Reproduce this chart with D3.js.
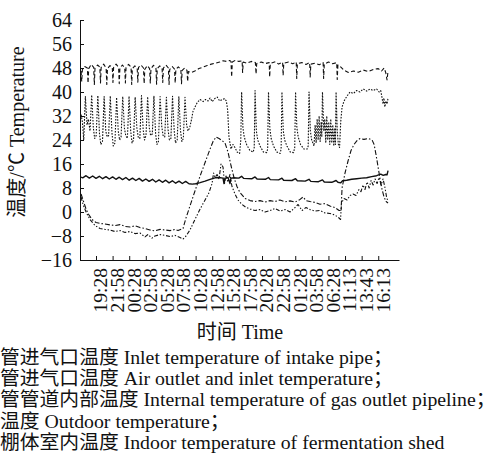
<!DOCTYPE html>
<html><head><meta charset="utf-8">
<script src="https://cdn.jsdelivr.net/npm/d3@7"></script>
<style>body{margin:0;background:#fff} svg{display:block}</style>
</head><body>
<svg id="c" width="495" height="462"></svg>
<script>
// ---- data (x = sample index, 10 samples per tick; y = temperature °C) ----
const xLabels = ["19:28","21:58","00:28","02:58","05:28","07:58","10:28","12:58","15:28","17:58","20:28","22:58","01:28","03:58","06:28","11:13","13:43","16:13"];
const xTickIdx = [0,10,20,30,40,50,60,70,80,90,100,110,120,130,140,150,160,170];
const yTicks = [-16,-8,0,8,16,24,32,40,48,56,64];
const yTitle = "温度/℃ Temperature";
const xTitle = "时间 Time";
const legendLines = [
  "管进气口温度 Inlet temperature of intake pipe；",
  "管进气口温度 Air outlet and inlet temperature；",
  "管管道内部温度 Internal temperature of gas outlet pipeline；",
  "温度 Outdoor temperature；",
  "棚体室内温度 Indoor temperature of fermentation shed"
];

// dashed, top
const seriesTop = [[-9.0,47],[-8.6,43.5],[-8.2,47.5],[-6.8,48.5],[-5.2,48],[-4.8,43],[-4.4,47.8],[-2.9,49.2],[-1.4,48.2],[-1.0,42.5],[-0.6,48],[0.9,49],[2.3,48.3],[2.7,43],[3.1,48.2],[4.6,49.3],[6.1,48],[6.5,42.5],[6.9,47.8],[8.4,48.8],[9.8,48.3],[10.2,43.2],[10.6,48.2],[12.1,49.3],[13.6,48.2],[14.0,42.8],[14.4,48],[15.9,49],[17.3,48],[17.7,43],[18.1,48.2],[19.6,49.2],[21.1,48.3],[21.5,42.5],[21.9,47.8],[23.4,48.7],[24.8,48],[25.2,43.3],[25.6,48.2],[27.1,49],[28.6,48],[29.0,42.8],[29.4,47.6],[30.9,48.8],[32.3,47.8],[32.7,43],[33.1,47.7],[34.6,48.9],[36.1,48],[36.5,42.6],[36.9,47.8],[38.4,48.7],[39.8,47.9],[40.2,43.2],[40.6,48],[42.1,49],[43.6,48],[44.0,42.5],[44.4,47.5],[45.9,48.5],[47.3,47.6],[47.7,43],[48.1,47.5],[49.6,48.4],[51.1,47.5],[51.5,42.8],[51.9,47.2],[53.4,48],[54.8,47.2],[55.2,43.5],[55.6,46.8],[57.5,46.5],[59.5,47],[62,47.8],[64.5,48.3],[67,48.8],[69.5,49.3],[72,49.6],[74.5,50],[76.5,50.4],[78.5,50.2],[80.5,50.5],[81.3,50.2],[81.7,45],[82.1,50],[84,50.6],[86,50.2],[88,50.4],[88.3,46.5],[88.7,50],[91,49.6],[93.5,50.2],[96,49.8],[96.4,46],[96.8,49.5],[99.5,50],[102,49.5],[104.3,49.8],[104.6,45],[105,49.5],[108,50.1],[110,49.3],[112.4,49.9],[112.7,45.5],[113.1,49.6],[116,50],[118.5,49.4],[120.6,50],[120.9,44.5],[121.3,49.5],[124,49.8],[126.5,49.2],[128.7,49.8],[129,45],[129.4,49.3],[132,49.6],[134.5,49.1],[136.8,49.8],[137.1,44.5],[137.5,49.3],[140,50],[142.5,49.4],[145,49.8],[145.3,44.2],[145.7,49],[147.5,48.3],[149.5,47.2],[152,46.5],[155,47],[158,46.6],[161,47.3],[164,46.8],[167,47.5],[170,47.8],[172,47],[173.5,48],[174.5,46.5],[175.3,44],[175.9,47]];

// dotted, oscillating
const seriesOsc = [[-9,32.5],[-8.2,30],[-7.4,24],[-6.4,38.5],[-5.4,29],[-4.6,31],[-3.6,27],[-2.6,39],[-1.6,28],[-0.8,24.5],[0.1,25.5],[1.1,38.8],[2.1,26],[2.9,22.5],[3.9,23.5],[4.9,38.5],[5.9,27],[6.7,25],[7.6,25.5],[8.6,38.7],[9.6,26.5],[10.4,22],[11.4,23],[12.4,38.2],[13.4,27],[14.2,24],[15.1,25],[16.1,38.5],[17.1,28],[17.9,25.5],[18.9,24.5],[19.9,38.6],[20.9,27],[21.7,23],[22.6,24],[23.6,38.3],[24.6,28],[25.4,25],[26.4,24.5],[27.4,38.8],[28.4,27.5],[29.2,24],[30.1,25.5],[31.1,38.4],[32.1,28],[32.9,25.5],[33.9,26],[34.9,38.6],[35.9,26],[36.7,22.5],[37.6,23.5],[38.6,38.5],[39.6,28.5],[40.4,25.5],[41.4,25],[42.4,38.2],[43.4,27.5],[44.2,24],[45.1,24.5],[46.1,38.6],[47.1,27],[47.9,23],[48.9,24],[49.9,38.4],[50.9,27],[51.7,23.5],[52.6,24.5],[53.6,38.2],[54.6,29],[55.4,27],[56.4,28],[57.6,31],[58.4,33.5],[59.6,35],[61,36.5],[62.7,37.5],[64.5,36.8],[66,37.5],[67.5,37],[68.7,38],[70,36.8],[71.5,37.8],[73,38.3],[74.5,37],[76,37.5],[77.5,37.8],[78.5,37],[79.3,34],[80.1,25],[81.3,21],[82.5,22.5],[83.7,21.5],[85,20],[86.5,19.5],[87.2,24],
  [87.7,40],[88.5,28],[89.3,25],[90.7,22.5],[92.7,20.5],[94.7,20],[95.3,21.5],
  [95.8,40.5],[96.6,27],[97.4,24],[98.8,22],[100.8,20],[102.8,19.8],[103.4,21],
  [103.9,40],[104.7,28],[105.5,24.5],[106.9,22],[108.9,20],[110.9,19.5],[111.5,21],
  [112,40],[112.8,27],[113.6,24],[115,22],[117,20],[119,19.8],[119.7,21.5],
  [120.2,40],[121,28],[121.8,25],[123.2,22.5],[125.2,21],[127.2,21],[127.8,22],
  [128.3,40],[129.1,27],[129.9,24],[131.3,22],[132,29],[132.6,23],[133.2,31],[133.8,24],[134.4,32],[135,23.5],[135.6,30],[136,25],
  [136.4,40],[137.2,27],[137.8,31],[138.4,23],[139,32],[139.6,24],[140.2,30],[140.8,22.5],[141.4,31],[142,23],[142.6,29],[143.2,22],[143.8,28],[144.2,22.5],
  [144.6,40],[145.3,27],[146,22.5],[146.7,21.5],[147.4,30],[148.2,35],[149.4,37],[151,38.5],[153,40],[155,39.5],[157,40.5],[159,40],[161,41],[163,40.3],[165,41],[167,40.5],[169,41],[170.5,40],[171.5,40.5],[172.3,38],[172.9,36],[173.4,38],[174,35],[174.6,37],[175.3,36],[175.9,38]];

// solid
const seriesSolid = [[-9,11.6],[-8,11.4],[-6,12.1],[-4,11.3],[-2,12.0],[0,11.2],[2,11.9],[4,11.1],[6,11.8],[8,11.0],[10,11.7],[12,10.9],[14,11.6],[16,10.8],[18,11.5],[20,10.6],[22,11.3],[24,10.5],[26,11.2],[28,10.3],[30,11.0],[32,10.2],[34,10.9],[36,10.0],[38,10.7],[40,9.9],[42,10.6],[44,9.7],[46,10.4],[48,9.6],[50,10.3],[52,9.5],[54,10.2],[56,9.4],[58,9.3],[60,9.4],[62.7,9.8],[65.7,10.3],[68.7,10.9],[71.7,11.4],[74,11.5],[76.5,11.3],[77.1,9.5],[77.7,11.2],[79.5,11.5],[80.7,9.5],[81.3,11.3],[83,11.4],[86,11.3],[87.7,11.9],[89,11.2],[94,11.1],[95.8,11.7],[97,11.0],[102,10.9],[103.9,11.5],[105,10.8],[110,10.7],[112,11.3],[113,10.6],[118,10.5],[120.2,11.1],[121.3,10.4],[126,10.3],[128.3,10.9],[129.4,10.2],[134,10.1],[136.4,10.7],[137.5,10.0],[142,9.9],[144.6,10.5],[145.7,9.9],[147.3,9.7],[148.5,10.4],[151,10.6],[154,10.9],[157,11.1],[160,11.3],[163,11.4],[166,11.8],[169,12.1],[171.5,12.6],[173,12.2],[174.5,12.5],[175.3,12.4],[175.9,13.8]];

// dash-dot
const seriesDashDot = [[-9,6],[-7.2,3],[-6,1],[-4.8,-0.5],[-2.4,-2.5],[0,-3.5],[2.4,-3.8],[5.4,-4],[8.4,-4.3],[11.4,-4.5],[14.5,-4.2],[17.5,-4.8],[20.5,-5],[23.5,-4.6],[26.5,-5.2],[29.5,-5.5],[32.5,-6],[35.5,-6.3],[38.6,-5.8],[41.6,-6],[44.6,-6.2],[47.6,-5.8],[49.4,-6.2],[52.4,-5.5],[54.2,-2],[56.6,2],[59.6,7],[62.7,12],[65.7,16.5],[68.7,21],[70.5,23.5],[72.3,25],[74.1,24.5],[75.9,23.8],[77.7,23],[79.5,20],[81.3,15.5],[83.1,11.5],[84.9,8.5],[86.7,6.5],[89.8,4.5],[92.8,3.8],[95.8,3.5],[98.8,3.8],[101.8,3.3],[104.8,3.8],[107.8,3.5],[110.8,4],[113.9,3.4],[116.9,3.7],[119.9,3.3],[122.9,4.2],[124.7,5],[126.5,3.8],[128.9,3.5],[131.9,3.2],[134.9,2.6],[137.9,2.8],[140.9,2],[143.9,1.5],[146.4,0.5],[147.6,0.5],[148.2,8],[150,13],[151.8,17],[153.6,20.5],[155.4,22.5],[157.2,23.8],[159,24.5],[161.4,24.2],[163.9,24.5],[166.3,24],[167.5,22.5],[168.7,19],[169.9,15],[171.1,11],[172.3,7.5],[173.5,5],[174.7,3.5],[175.9,3]];

// dash-dot-dot
const seriesDashDot2 = [[-9,5],[-7.8,2.5],[-6,0],[-3.6,-2.5],[-0.6,-4.5],[2.4,-5.5],[5.4,-5.8],[8.4,-6],[11.4,-6.5],[14.5,-6.2],[17.5,-6.8],[20.5,-6.5],[23.5,-7.2],[26.5,-7],[29.5,-8.3],[31.3,-7.5],[33.7,-8.7],[35.5,-8],[38.6,-7.5],[41.6,-7.8],[44.6,-8.2],[47.6,-7.8],[50.6,-8.5],[52.4,-9],[54.2,-8],[56.6,-6],[59.6,-2.5],[62.7,1],[65.7,4],[68.1,6.5],[69.9,9.5],[70.8,13],[71.7,11.5],[72.9,12.5],[74.1,11],[75.3,16],[76.5,15],[77.4,9.5],[78.3,12],[79.5,10],[80.7,12.5],[81.9,8.5],[83.7,6],[85.5,4],[88,2.5],[90.4,1.5],[92.8,1],[95.8,0.5],[98.8,0.8],[101.8,0],[104.8,0.5],[107.8,1.2],[110.8,0.3],[113.9,0.8],[116.9,0],[119.9,1.5],[121.7,2.5],[124.1,0.5],[126.5,1.5],[128.9,0.8],[131.9,0.3],[134.9,0.5],[137.9,-0.3],[140.9,-0.5],[143.9,-1],[146.4,-2],[147.3,-2.5],[147.9,3],[149.4,4.5],[151.2,4],[153,5.5],[154.8,6],[156.6,5.5],[158.4,7.5],[159.6,6.8],[160.8,9],[162,7.5],[163.3,10],[164.5,8],[165.7,10.5],[166.9,9],[168.1,11],[169.3,9.5],[170.5,11.5],[171.7,9],[172.9,11],[174.1,8],[175,5],[175.9,3.5]];

// ---- drawing ----
const svg = d3.select("#c");
const serif = "'Liberation Serif','Noto Sans CJK SC',serif";
const ink = "#111";
const x = d3.scaleLinear().domain([-9.64, 182.5]).range([80, 399]);
const y = d3.scaleLinear().domain([-16, 64]).range([260, 20]);

// y axis
const yAxis = svg.append("g").attr("transform", "translate(80,0)")
  .call(d3.axisLeft(y).tickValues(yTicks).tickSizeInner(-4).tickSizeOuter(0).tickPadding(8).tickFormat(d => d < 0 ? "\u2212" + Math.abs(d) : d));
yAxis.select(".domain").attr("stroke", ink);
yAxis.selectAll(".tick line").attr("stroke", ink);
yAxis.selectAll(".tick text").attr("font-family", serif).attr("font-size", 20).attr("fill", ink);

// x axis
const xAxis = svg.append("g").attr("transform", "translate(0,260)")
  .call(d3.axisBottom(x).tickValues(xTickIdx).tickSizeInner(-4).tickSizeOuter(0).tickFormat(""));
xAxis.select(".domain").attr("stroke", ink);
xAxis.selectAll(".tick line").attr("stroke", ink);
xAxis.selectAll(".tick").append("text")
  .attr("transform", "translate(4,8) rotate(-90)")
  .attr("text-anchor", "end").attr("dy", "0.35em")
  .attr("font-family", serif).attr("font-size", 19.5).attr("fill", ink)
  .text((d, i) => xLabels[i]);

// series
const line = d3.line().x(d => x(d[0])).y(d => y(d[1]));
const series = [
  {data: seriesTop, dash: "4,2.5", w: 1.1},
  {data: seriesOsc, dash: "1.6,1.4", w: 1.1},
  {data: seriesSolid, dash: null, w: 1.4},
  {data: seriesDashDot, dash: "5,2,1.5,2", w: 1.1},
  {data: seriesDashDot2, dash: "4,1.8,1.4,1.8,1.4,1.8", w: 1.1}
];
svg.append("g").selectAll("path").data(series).join("path")
  .attr("d", d => line(d.data))
  .attr("fill", "none").attr("stroke", ink)
  .attr("stroke-width", d => d.w)
  .attr("stroke-dasharray", d => d.dash)
  .attr("stroke-linejoin", "round");

// axis titles
svg.append("text").attr("transform", "translate(17,132) rotate(-90)")
  .attr("text-anchor", "middle").attr("dy", "0.35em")
  .attr("font-family", serif).attr("font-size", 20).attr("fill", ink).text(yTitle);
svg.append("text").attr("x", 240).attr("y", 339).attr("text-anchor", "middle")
  .attr("font-family", serif).attr("font-size", 20).attr("fill", ink).text(xTitle);

// legend text
svg.append("g").selectAll("text").data(legendLines).join("text")
  .attr("x", 0).attr("y", (d, i) => 364 + i * 21.2)
  .attr("font-family", serif).attr("font-size", 19.8).attr("fill", ink)
  .text(d => d);
</script>
</body></html>
